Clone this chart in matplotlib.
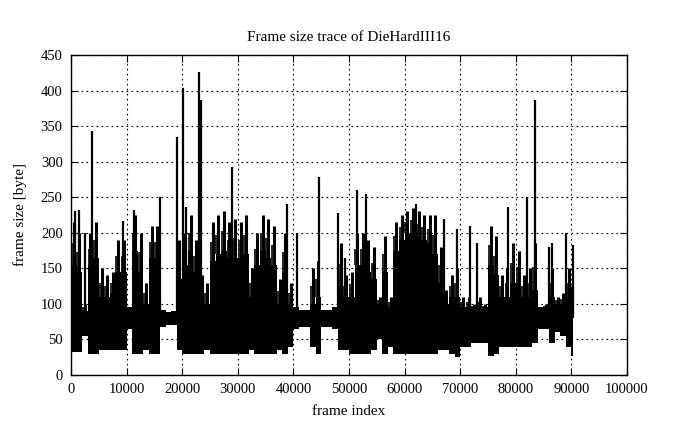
import numpy as np
import matplotlib
matplotlib.use("Agg")
import matplotlib.pyplot as plt

# ---- data (envelope per 1000-frame bin) ----
bin_start = list(range(0, 91000, 1000))          # frame index where each bin starts
last_frame = 90300
# lowest frame size in the bin
bin_lo = [33, 33, 55, 30, 30, 35, 35, 35, 35, 35,
          65, 30, 30, 35, 30, 30, 68, 70, 70, 35,
          30, 30, 30, 30, 35, 30, 30, 30, 30, 30,
          30, 30, 35, 30, 30, 30, 30, 35, 30, 40,
          65, 68, 68, 40, 30, 68, 68, 65, 35, 35,
          30, 30, 30, 30, 35, 50, 30, 40, 30, 30,
          30, 30, 30, 30, 30, 30, 35, 35, 30, 25,
          40, 40, 45, 45, 45, 27, 30, 40, 40, 40,
          40, 40, 40, 45, 65, 65, 45, 60, 55, 40,
          27]
# level up to which the trace is solid black
bin_core = [155, 145, 90, 155, 165, 110, 110, 115, 145, 145,
            95, 175, 145, 100, 165, 165, 92, 88, 90, 135,
            155, 175, 145, 110, 100, 160, 170, 175, 165, 165,
            165, 170, 110, 155, 175, 165, 155, 100, 145, 100,
            95, 92, 92, 100, 110, 92, 92, 95, 125, 110,
            110, 155, 155, 145, 135, 100, 145, 95, 175, 190,
            200, 200, 195, 190, 185, 170, 130, 100, 110, 110,
            95, 95, 95, 95, 95, 155, 140, 110, 110, 130,
            130, 110, 110, 120, 95, 95, 110, 100, 100, 110,
            100]
# highest frame size in the bin
bin_hi = [215, 200, 100, 200, 215, 150, 140, 145, 190, 190,
          95, 225, 200, 130, 210, 210, 92, 88, 90, 190,
          200, 225, 190, 140, 130, 215, 225, 230, 215, 220,
          215, 225, 150, 200, 225, 220, 210, 135, 200, 130,
          95, 92, 92, 150, 160, 92, 92, 95, 186, 140,
          145, 200, 200, 190, 180, 110, 195, 110, 215, 225,
          230, 235, 230, 225, 225, 225, 180, 120, 140, 150,
          110, 110, 100, 110, 100, 210, 195, 140, 150, 185,
          175, 140, 150, 185, 95, 100, 150, 110, 115, 150,
          125]

# isolated peaks (frame index, frame size)
spike_frame = [700, 1500, 2600, 3700, 9300, 11300, 16000, 19000, 20200, 20600,
               23100, 23300, 29000, 38900, 40600, 44600, 48000, 49300, 51500, 53000,
               62100, 67000, 69500, 71800, 73000, 78600, 82000, 83500, 85900, 86500,
               89000, 90200]
spike_value = [230, 232, 200, 343, 216, 232, 251, 335, 403, 236,
               426, 387, 293, 240, 200, 279, 228, 165, 260, 255,
               240, 220, 205, 210, 185, 236, 251, 387, 180, 186,
               200, 183]

# ---- figure ----
plt.rcParams['font.family'] = ['Liberation Serif', 'DejaVu Serif']
fig = plt.figure(figsize=(6.99, 4.29), dpi=100)
ax = fig.add_axes([0.1016, 0.1259, 0.7954, 0.7459])

edges = np.array(bin_start + [last_frame], dtype=float)
widths = np.diff(edges)
centers = edges[:-1] + widths / 2
lo = np.array(bin_lo, dtype=float)
core = np.array(bin_core, dtype=float)
hi = np.array(bin_hi, dtype=float)
# solid part of the trace
ax.bar(edges[:-1], core - lo, bottom=lo, width=widths, align='edge',
       color='black', linewidth=0, zorder=3)
# ragged upper part: thin strokes reaching the bin maximum
ax.vlines(centers, core, hi, colors='black', linewidth=2.2, zorder=3)
ax.vlines(edges[:-1] + widths * 0.15, core, (core + hi) / 2,
          colors='black', linewidth=1.2, zorder=3)
sf = np.array(spike_frame, dtype=float)
sv = np.array(spike_value, dtype=float)
ax.vlines(sf, 80, sv, colors='black', linewidth=1.6, zorder=3)

ax.set_xlim(0, 100000)
ax.set_ylim(0, 450)
ax.set_xticks(np.arange(0, 100001, 10000))
ax.set_yticks(np.arange(0, 451, 50))
ax.tick_params(direction='in', top=True, right=True, labelsize=10.5,
               length=5, width=0.8, pad=6)
ax.grid(True, color='black', linestyle=(0, (1.5, 3)), linewidth=0.8)
ax.set_axisbelow(True)
for s in ax.spines.values():
    s.set_linewidth(1.0)

ax.set_title('Frame size trace of DieHardIII16', fontsize=11, pad=10)
ax.set_xlabel('frame index', fontsize=11, labelpad=6)
ax.set_ylabel('frame size [byte]', fontsize=11, labelpad=10)

fig.savefig('out.png', dpi=100, facecolor='white')
